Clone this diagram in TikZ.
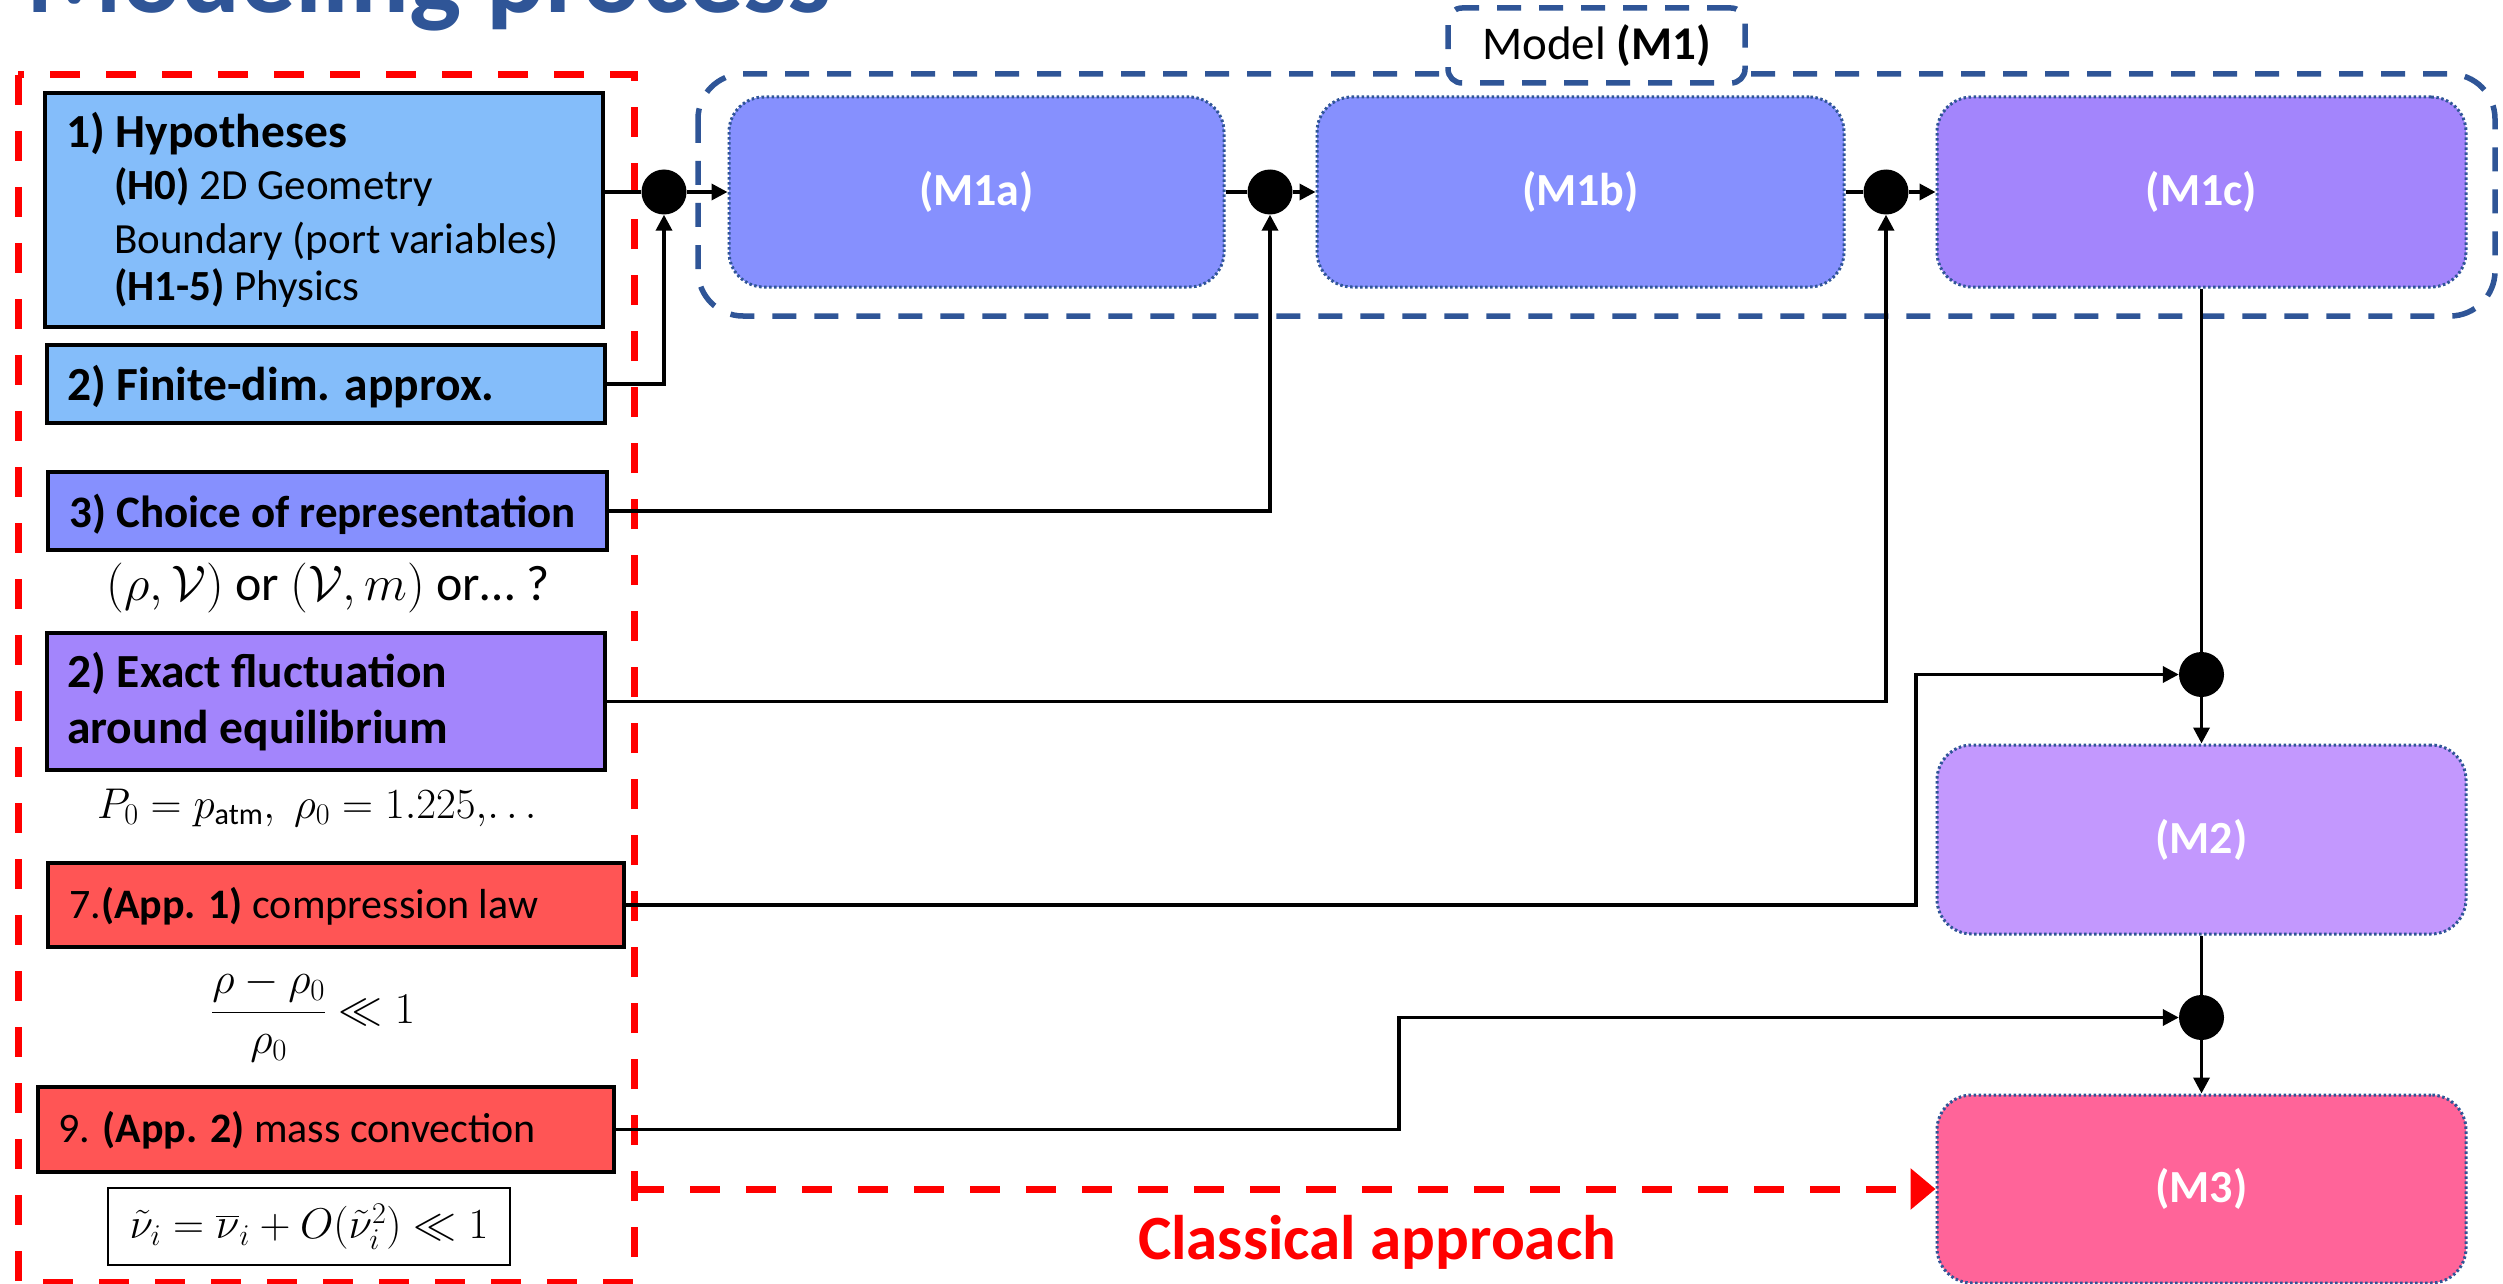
\RequirePackage{fix-cm}
\documentclass[tikz,border=0pt]{standalone}
\usepackage{amsmath}
\usepackage{fontspec}
\setmainfont{Carlito}
\usetikzlibrary{arrows.meta}
\definecolor{titleblue}{HTML}{2F5597}
\definecolor{lightblue}{HTML}{84BDFA}
\definecolor{peri}{HTML}{8690FE}
\definecolor{lav}{HTML}{A385FC}
\definecolor{mtwo}{HTML}{C398FE}
\definecolor{mthree}{HTML}{FF6499}
\definecolor{appred}{HTML}{FF5555}
\definecolor{dred}{HTML}{FF0000}
\tikzset{
  lbox/.style={draw=black, line width=4pt, inner sep=0pt},
  txt/.style={anchor=base west, inner sep=0pt, font=\fontsize{43pt}{52pt}\selectfont},
  btxt/.style={anchor=base west, inner sep=0pt, font=\fontsize{47.5pt}{56pt}\selectfont\bfseries},
  mathtxt/.style={inner sep=0pt, font=\fontsize{43pt}{52pt}\selectfont},
  mbox/.style={draw=titleblue, line width=3pt, dash pattern=on 2.5pt off 2.5pt, rounded corners=35pt,
    text=white, font=\fontsize{46pt}{55pt}\selectfont\bfseries, inner sep=0pt},
  junc/.style={circle, fill=black, minimum size=45pt, inner sep=0pt},
  conn/.style={draw=black, line width=3.5pt},
  arr/.style={conn, -{Triangle[length=16pt,width=16pt]}},
  reddash/.style={draw=dred, line width=7pt, dash pattern=on 30pt off 26pt},
  bluedash/.style={draw=titleblue, line width=5.5pt, dash pattern=on 24pt off 18pt},
}
\begin{document}
\begin{tikzpicture}[x=1pt,y=-1pt]
\useasboundingbox (0,0) rectangle (2503,1284);
\clip (0,0) rectangle (2503,1284);
\fill[white] (0,0) rectangle (2503,1284);

% title
\node[anchor=base west, inner sep=0pt, text=titleblue, font=\fontsize{110pt}{120pt}\selectfont\bfseries] (title) at (26,12.5) {Modeling process};

% red dashed frame
\draw[reddash] (18,75) rectangle (634,1282);

% model M1 frame
\draw[bluedash, rounded corners=45pt] (698,74) rectangle (2495,316);
\node[bluedash, fill=white, rounded corners=14pt, minimum width=297pt, minimum height=75pt, inner sep=0pt,
  font=\fontsize{47pt}{56pt}\selectfont] (lbl) at (1596.5,45.5) {Model \textbf{(M1)}};

% left boxes
\node[lbox, fill=lightblue, minimum width=558pt, minimum height=234pt] (b1) at (324,210) {};
\node[lbox, fill=lightblue, minimum width=558pt, minimum height=78pt] (b2) at (326,384) {};
\node[lbox, fill=peri, minimum width=559pt, minimum height=78pt] (b3) at (327.5,511) {};
\node[lbox, fill=lav, minimum width=558pt, minimum height=137pt] (b4) at (326,701.5) {};
\node[lbox, fill=appred, minimum width=576pt, minimum height=84pt] (b7) at (336,905) {};
\node[lbox, fill=appred, minimum width=576pt, minimum height=85pt] (b9) at (326,1129.5) {};

\node[btxt] (t1a) at (66,148) {1) Hypotheses};
\node[txt] (t1b) at (114,200) {\textbf{(H0)} 2D Geometry};
\node[txt] (t1c) at (114,253) {Boundary (port variables)};
\node[txt] (t1d) at (114,300) {\textbf{(H1-5)} Physics};
\node[btxt] (t2) at (67,400) {2) Finite-dim. approx.};
\node[btxt, font=\fontsize{45pt}{54pt}\selectfont\bfseries] (t3) at (69,527) {3) Choice of representation};
\node[btxt] (t4a) at (67,687) {2) Exact fluctuation};
\node[btxt] (t4b) at (67,743) {around equilibrium};
\node[txt, font=\fontsize{42pt}{50pt}\selectfont] (t7) at (69,918) {7.\textbf{(App. 1)} compression law};
\node[txt, font=\fontsize{42pt}{50pt}\selectfont] (t9) at (58,1142) {9. \textbf{(App. 2)} mass convection};

% formulas
\node[mathtxt, font=\fontsize{50pt}{60pt}\selectfont] (f3) at (328,588) {$(\rho,\mathcal{V})$ or $(\mathcal{V},m)$ or… ?};
\node[mathtxt] (f4) at (317,808) {$P_0=p_{\text{atm}},\;\rho_0=1.225,\!\ldots$};
\node[mathtxt, font=\fontsize{44pt}{52pt}\selectfont] (f7) at (313,1015) {$\displaystyle\frac{\rho-\rho_0}{\rho_0}\ll 1$};
\node[mathtxt, draw=black, line width=2pt, minimum width=402pt, minimum height=77pt] (f9) at (309,1226.5)
  {$\tilde{\nu}_i=\overline{\nu}_i+O(\tilde{\nu}_i^2)\ll 1$};

% model boxes
\node[mbox, fill=peri, minimum width=495pt, minimum height=190pt] (m1a) at (976.5,192) {(M1a)};
\node[mbox, fill=peri, minimum width=527pt, minimum height=190pt] (m1b) at (1580.5,192) {(M1b)};
\node[mbox, fill=lav, minimum width=529pt, minimum height=190pt] (m1c) at (2201.5,192) {(M1c)};
\node[mbox, fill=mtwo, minimum width=529pt, minimum height=189pt] (m2) at (2201.5,839.5) {(M2)};
\node[mbox, fill=mthree, minimum width=529pt, minimum height=188pt] (m3) at (2201.5,1189) {(M3)};

% junctions
\node[junc] (j1) at (664,192) {};
\node[junc] (j2) at (1270,192) {};
\node[junc] (j3) at (1886,192) {};
\node[junc] (j4) at (2201.5,674.5) {};
\node[junc] (j5) at (2201.5,1017.5) {};

\coordinate (k7) at (1916,674.5);
\coordinate (k9) at (1399,1017.5);
\coordinate (ca) at (634,1189);

% connectors
\draw[conn] (b1.east |- j1) -- (j1);
\draw[arr] (j1) -- (m1a);
\draw[arr] (b2.east) -| (j1);
\draw[conn] (m1a) -- (j2);
\draw[arr] (j2) -- (m1b);
\draw[arr] (b3.east) -| (j2);
\draw[conn] (m1b) -- (j3);
\draw[arr] (j3) -- (m1c);
\draw[arr] (b4.east) -| (j3);
\draw[conn] (m1c) -- (j4);
\draw[arr] (j4) -- (m2);
\draw[arr] (b7.east) -| (k7) -- (j4);
\draw[conn] (m2) -- (j5);
\draw[arr] (j5) -- (m3);
\draw[arr] (b9.east) -| (k9) -- (j5);
\draw[reddash, -{Triangle[length=25pt,width=40pt]}] (ca) -- (m3.west);

\node[anchor=base, inner sep=0pt, text=dred, font=\fontsize{63pt}{75pt}\selectfont\bfseries] (cl) at (1377,1259) {Classical approach};
\end{tikzpicture}
\end{document}
